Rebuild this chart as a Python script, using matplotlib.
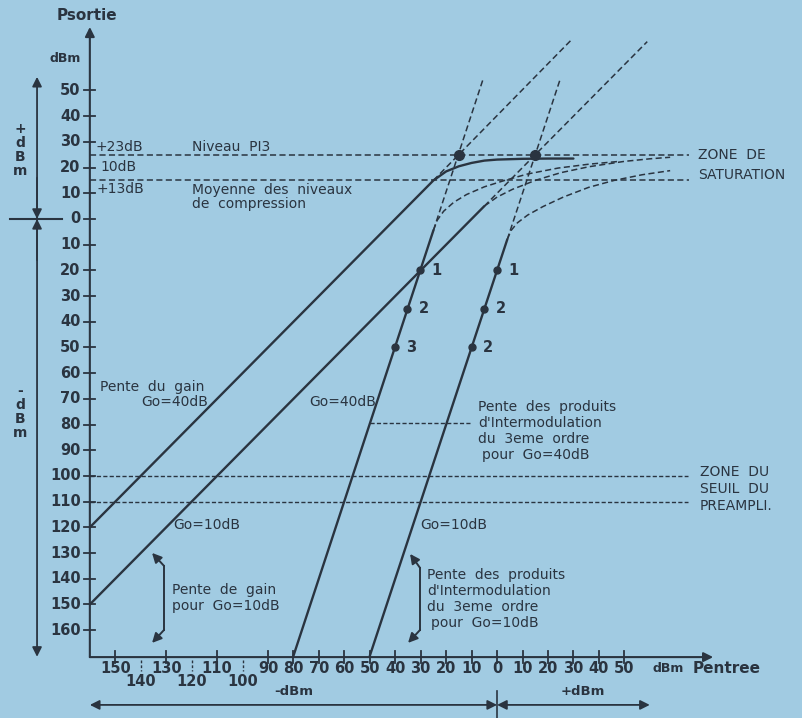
import matplotlib
matplotlib.use('Agg')
import matplotlib.pyplot as plt

# ---------------- data (dBm) ----------------
ytick_vals = [50, 40, 30, 20, 10, 0, -10, -20, -30, -40, -50, -60, -70, -80,
              -90, -100, -110, -120, -130, -140, -150, -160]
xtick_major = [-150, -130, -110, -90, -80, -70, -60, -50, -40, -30, -20, -10,
               0, 10, 20, 30, 40, 50]
xtick_minor = [-140, -120, -100]

# gain curve Go=40dB (solid, with saturation)
gain40_x = [-160, -25, -20, -15, -10, -5, 0, 10, 20, 30]
gain40_y = [-120, 15, 18.5, 20.5, 21.8, 22.7, 23.1, 23.4, 23.5, 23.5]
# gain line Go=10dB (solid part)
gain10_x = [-160, -5]
gain10_y = [-150, 5]
# Go=10dB gain compression (dashed)
gain10c_x = [-5, 0, 6, 15, 25, 36, 50, 60, 68]
gain10c_y = [5, 8.5, 11.5, 15, 18, 20.3, 22.4, 23.4, 24]

# 3rd order intermod lines (solid parts)
im40_x = [-80, -25]
im40_y = [-170, -4.4]
im10_x = [-50, 4]
im10_y = [-170, -8]
# intermod compression curves (dashed)
im40c_x = [-25, -23.5, -21, -17, -12, -5, 3, 12, 24, 36, 48]
im40c_y = [-4.4, -0.5, 3, 6.5, 9.5, 12.5, 15, 17.5, 19.8, 21.3, 22.4]
im10c_x = [4, 5.5, 8, 12, 18, 26, 36, 46, 57, 68]
im10c_y = [-8, -4.5, -1.5, 1.5, 4.8, 8.5, 12.3, 15, 17.2, 18.8]

# straight extrapolations (dashed)
ext_gain40 = ([-25, 29.5], [15, 70])
ext_gain10 = ([-5, 59], [5, 69])
ext_im40 = ([-25, -5.3], [-4.4, 55])
ext_im10 = ([4, 25], [-8, 55])

# measurement points on intermod lines
pts40_x = [-30.2, -35.2, -40.2]
pts10_x = [0, -5, -10]
pts_y = [-20, -35, -50]
pts40_lab = ['1', '2', '3']
pts10_lab = ['1', '2', '2']

# intercept points PI3
pi3_x = [-15, 15]
pi3_y = [25, 25]

# reference levels
lvl_pi3 = 25
lvl_comp = 15
lvl_seuil = [-100, -110]

BG = '#a1cbe2'
INK = '#2a3440'

fig = plt.figure(figsize=(8.03, 7.18), dpi=100, facecolor=BG)
ax = fig.add_axes([0, 0, 1, 1])
ax.set_facecolor(BG)
ax.set_xlim(-195.3, 120.2)
ax.set_ylim(-194.2, 85.2)
ax.axis('off')


def P(px, py):
    # pixel position of the scanned sheet -> dBm coordinates
    return (px - 497) / 2.545, (219 - py) / 2.57


def txt(px, py, s, size=10, ha='left', weight='normal', **kw):
    x, y = P(px, py)
    ax.text(x, y, s, fontsize=size, ha=ha, va='center', color=INK,
            weight=weight, family='DejaVu Sans', **kw)


def arrow(x0, y0, x1, y1, both=False, lw=1.3):
    style = '<|-|>' if both else '-|>'
    ax.annotate('', xy=(x1, y1), xytext=(x0, y0),
                arrowprops=dict(arrowstyle=style, color=INK, lw=lw,
                                mutation_scale=14, shrinkA=0, shrinkB=0))


dash = dict(color=INK, lw=1.1, ls=(0, (4, 2.2)))
solid = dict(color=INK, lw=1.7, solid_capstyle='round')

# ---------------- axes ----------------
x_ax, y_ax = -160, -170.5
arrow(x_ax, y_ax, x_ax, 74.7, lw=1.5)
arrow(x_ax, y_ax, 84.9, y_ax, lw=1.5)

for v in ytick_vals:
    ax.plot([x_ax - 2.2, x_ax + 2.2], [v, v], color=INK, lw=1.3)
    ax.text(x_ax - 3.6, v, str(abs(v)), fontsize=10.5, ha='right', va='center',
            color=INK, weight='semibold')
for v in xtick_major:
    ax.plot([v, v], [y_ax - 2.2, y_ax + 2.2], color=INK, lw=1.3)
    ax.text(v, P(0, 669)[1], str(abs(v)), fontsize=10.5, ha='center', va='center',
            color=INK, weight='semibold')
for v in xtick_minor:
    ax.plot([v, v], [y_ax - 1, y_ax - 5.5], color=INK, lw=1, ls=(0, (2, 1.5)))
    ax.text(v, P(0, 682)[1], str(abs(v)), fontsize=10.5, ha='center', va='center',
            color=INK, weight='semibold')

# ---------------- reference levels ----------------
ax.plot([x_ax, 75.5], [lvl_pi3, lvl_pi3], **dash)
ax.plot([x_ax, 75.5], [lvl_comp, lvl_comp], **dash)
for lv in lvl_seuil:
    ax.plot([x_ax, 75], [lv, lv], color=INK, lw=1, ls=(0, (3, 1.6)))

# ---------------- curves ----------------
ax.plot(gain40_x, gain40_y, **solid)
ax.plot(gain10_x, gain10_y, **solid)
ax.plot(im40_x, im40_y, **solid)
ax.plot(im10_x, im10_y, **solid)
for cx, cy in [(gain10c_x, gain10c_y), (im40c_x, im40c_y), (im10c_x, im10c_y),
               ext_gain40, ext_gain10, ext_im40, ext_im10]:
    ax.plot(cx, cy, **dash)

ax.plot(pts40_x, pts_y, 'o', color=INK, ms=5)
ax.plot(pts10_x, pts_y, 'o', color=INK, ms=5)
ax.plot(pi3_x, pi3_y, 'o', color=INK, ms=7)
for x, y, s in zip(pts40_x, pts_y, pts40_lab):
    ax.text(x + 4.5, y, s, fontsize=10.5, va='center', color=INK, weight='semibold')
for x, y, s in zip(pts10_x, pts_y, pts10_lab):
    ax.text(x + 4.5, y, s, fontsize=10.5, va='center', color=INK, weight='semibold')

# leader for IM3 Go=40 label
ax.plot([-50.1, -9.8], [-79.4, -79.4], color=INK, lw=1, ls=(0, (3, 1.6)))

# ---------------- side arrows ----------------
ax_l = P(37, 0)[0]
arrow(ax_l, 0, ax_l, 55.3)
arrow(ax_l, 16, ax_l, 0)
arrow(ax_l, 0, ax_l, -170.4)
arrow(ax_l, -16, ax_l, 0)
ax.plot([P(10, 0)[0], P(62, 0)[0]], [0, 0], color=INK, lw=1.5)

yb = P(0, 705)[1]
arrow(0, yb, -160, yb, both=True)
arrow(0, yb, 60, yb, both=True)
ax.plot([0, 0], [P(0, 691)[1], P(0, 718)[1]], color=INK, lw=1.2)

# brackets
for pts in ([(152, 553), (164, 566), (164, 630), (152, 643)],
            [(410, 554), (420, 568), (420, 630), (408, 643)]):
    q = [P(*p) for p in pts]
    ax.plot([q[1][0], q[2][0]], [q[1][1], q[2][1]], color=INK, lw=1.4)
    arrow(q[1][0], q[1][1], q[0][0], q[0][1], lw=1.4)
    arrow(q[2][0], q[2][1], q[3][0], q[3][1], lw=1.4)

# ---------------- texts ----------------
txt(87, 16, 'Psortie', size=11, ha='center', weight='bold')
txt(65, 59, 'dBm', size=9, ha='center', weight='bold')
ax.text(P(20, 0)[0], P(0, 150)[1], '+\nd\nB\nm', fontsize=10, ha='center',
        va='center', color=INK, weight='bold', linespacing=1.0)
ax.text(P(20, 0)[0], P(0, 412)[1], '-\nd\nB\nm', fontsize=10, ha='center',
        va='center', color=INK, weight='bold', linespacing=1.0)

txt(95, 147, '+23dB')
txt(100, 167, '10dB')
txt(96, 189, '+13dB')
txt(192, 147, 'Niveau  PI3')
txt(192, 190, 'Moyenne  des  niveaux')
txt(192, 204, 'de  compression')
txt(698, 155, 'ZONE  DE')
txt(698, 175, 'SATURATION')
txt(700, 472, 'ZONE  DU')
txt(700, 489, 'SEUIL  DU')
txt(700, 506, 'PREAMPLI.')

txt(100, 387, 'Pente  du  gain')
txt(141, 402, 'Go=40dB')
txt(309, 402, 'Go=40dB')
txt(173, 525, 'Go=10dB')
txt(420, 525, 'Go=10dB')
txt(172, 590, 'Pente  de  gain')
txt(172, 606, 'pour  Go=10dB')
txt(478, 407, 'Pente  des  produits')
txt(478, 423, "d'Intermodulation")
txt(478, 439, 'du  3eme  ordre')
txt(482, 455, 'pour  Go=40dB')
txt(427, 575, 'Pente  des  produits')
txt(427, 591, "d'Intermodulation")
txt(427, 607, 'du  3eme  ordre')
txt(431, 623, 'pour  Go=10dB')

txt(294, 692, '-dBm', size=9.5, ha='center', weight='semibold')
txt(583, 692, '+dBm', size=9.5, ha='center', weight='semibold')
txt(652, 669, 'dBm', size=9, weight='semibold')
txt(693, 669, 'Pentree', size=11, weight='semibold')

fig.savefig('out.png', dpi=100, facecolor=BG)
